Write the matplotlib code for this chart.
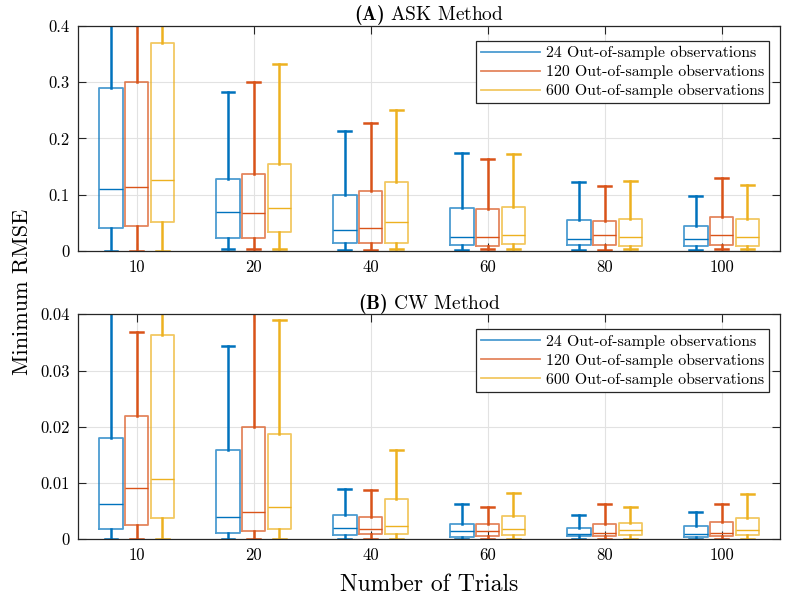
import matplotlib

matplotlib.use("Agg")
import matplotlib.pyplot as plt
from matplotlib.lines import Line2D

plt.rcParams.update({
    "font.family": ["cmr10", "DejaVu Serif"],
    "mathtext.fontset": "custom",
    "mathtext.rm": "cmr10",
    "mathtext.bf": "cmb10",
    "axes.formatter.use_mathtext": True,
    "axes.unicode_minus": False,
})

trials = [10, 20, 40, 60, 80, 100]
series = ["24 Out-of-sample observations",
          "120 Out-of-sample observations",
          "600 Out-of-sample observations"]
colors = ["#0072BD", "#D95319", "#EDB120"]

# (A) ASK method: per series, per trial -> [whislo, q1, med, q3, whishi]
ask_24 = [[0.0005, 0.041, 0.111, 0.290, 0.55],
          [0.003, 0.023, 0.070, 0.128, 0.282],
          [0.001, 0.014, 0.038, 0.100, 0.213],
          [0.001, 0.011, 0.025, 0.077, 0.175],
          [0.001, 0.010, 0.021, 0.055, 0.122],
          [0.001, 0.009, 0.021, 0.045, 0.098]]
ask_120 = [[0.0005, 0.045, 0.114, 0.301, 0.60],
           [0.003, 0.023, 0.068, 0.136, 0.301],
           [0.002, 0.014, 0.041, 0.106, 0.227],
           [0.003, 0.008, 0.024, 0.075, 0.163],
           [0.001, 0.010, 0.028, 0.054, 0.116],
           [0.003, 0.010, 0.028, 0.061, 0.129]]
ask_600 = [[0.0005, 0.052, 0.127, 0.369, 0.65],
           [0.003, 0.033, 0.077, 0.154, 0.333],
           [0.003, 0.015, 0.052, 0.123, 0.250],
           [0.003, 0.012, 0.028, 0.078, 0.173],
           [0.003, 0.009, 0.025, 0.057, 0.125],
           [0.003, 0.008, 0.025, 0.057, 0.117]]

# (B) CW method
cw_24 = [[0.0001, 0.0019, 0.0062, 0.0180, 0.055],
         [0.0001, 0.0011, 0.0040, 0.0158, 0.0343],
         [0.0001, 0.0008, 0.0020, 0.0044, 0.0090],
         [0.0001, 0.0004, 0.0014, 0.0027, 0.0063],
         [0.0001, 0.0005, 0.0010, 0.0020, 0.0043],
         [0.0001, 0.0004, 0.0009, 0.0023, 0.0049]]
cw_120 = [[0.0001, 0.0025, 0.0091, 0.0219, 0.0369],
          [0.0001, 0.0015, 0.0048, 0.0200, 0.050],
          [0.0001, 0.0009, 0.0019, 0.0040, 0.0087],
          [0.0001, 0.0005, 0.0014, 0.0028, 0.0058],
          [0.0001, 0.0005, 0.0011, 0.0028, 0.0062],
          [0.0001, 0.0005, 0.0012, 0.0030, 0.0062]]
cw_600 = [[0.0001, 0.0037, 0.0108, 0.0363, 0.060],
          [0.0001, 0.0018, 0.0058, 0.0187, 0.0389],
          [0.0001, 0.0009, 0.0023, 0.0071, 0.0159],
          [0.0001, 0.0008, 0.0018, 0.0042, 0.0083],
          [0.0001, 0.0007, 0.0016, 0.0029, 0.0058],
          [0.0001, 0.0008, 0.0016, 0.0037, 0.0080]]

offsets = [-0.22, 0.0, 0.22]
box_w = 0.2


def draw_panel(ax, data, title, ymax, yticks, yticklabels):
    base = list(range(1, len(trials) + 1))
    for vals, col, off in zip(data, colors, offsets):
        stats = [dict(whislo=v[0], q1=v[1], med=v[2], q3=v[3], whishi=v[4], fliers=[])
                 for v in vals]
        ax.bxp(stats, positions=[b + off for b in base], widths=box_w,
               capwidths=0.11, showfliers=False, manage_ticks=False,
               boxprops=dict(color=col, linewidth=1.3, alpha=0.7),
               medianprops=dict(color=col, linewidth=1.0),
               whiskerprops=dict(color=col, linewidth=1.8),
               capprops=dict(color=col, linewidth=1.8))
    ax.set_xlim(0.5, 6.5)
    ax.set_ylim(0, ymax)
    ax.set_xticks(base)
    ax.set_xticklabels([str(t) for t in trials])
    ax.set_yticks(yticks)
    ax.set_yticklabels(yticklabels)
    ax.tick_params(direction="in", top=True, right=True, labelsize=12,
                   length=5.5, color="#262626", pad=6)
    ax.grid(True, color="#e2e2e2", linewidth=0.8)
    ax.set_axisbelow(True)
    for s in ax.spines.values():
        s.set_color("#262626")
        s.set_linewidth(0.9)
    ax.set_title(title, fontsize=14, pad=4)
    handles = [Line2D([], [], color=c, linewidth=1.3, alpha=0.7) for c in colors]
    leg = ax.legend(handles, series, loc="upper right", fontsize=11.4,
                    handlelength=3.7, handletextpad=0.35, fancybox=False,
                    framealpha=1, edgecolor="#262626", borderpad=0.32,
                    labelspacing=0.3, borderaxespad=0,
                    bbox_to_anchor=(0.984, 0.933))
    leg.get_frame().set_linewidth(0.9)


fig = plt.figure(figsize=(7.86, 6.01), dpi=100)
ax1 = fig.add_axes([0.0995, 0.5824, 0.8930, 0.3744])
ax2 = fig.add_axes([0.0995, 0.1027, 0.8930, 0.3744])

draw_panel(ax1, [ask_24, ask_120, ask_600], r"$\mathbf{(A)}$ ASK Method",
           0.4, [0, 0.1, 0.2, 0.3, 0.4], ["0", "0.1", "0.2", "0.3", "0.4"])
draw_panel(ax2, [cw_24, cw_120, cw_600], r"$\mathbf{(B)}$ CW Method",
           0.04, [0, 0.01, 0.02, 0.03, 0.04], ["0", "0.01", "0.02", "0.03", "0.04"])

fig.text(0.028, 0.515, "Minimum RMSE", rotation=90, ha="center", va="center",
         fontsize=16)
fig.text(0.546, 0.027, "Number of Trials", ha="center", va="center", fontsize=17)

fig.savefig("out.png", dpi=100)
